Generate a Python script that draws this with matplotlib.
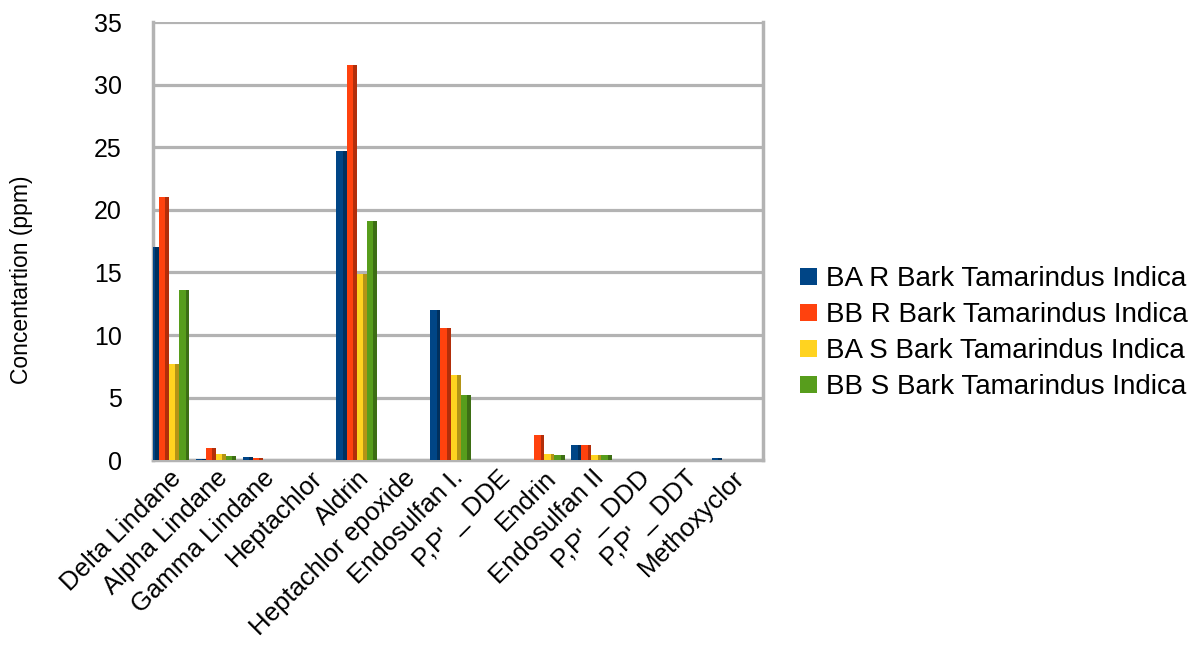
import matplotlib.pyplot as plt
import numpy as np

plt.rcParams['font.family'] = ['Liberation Sans', 'DejaVu Sans']

compounds = ['Delta Lindane', 'Alpha Lindane', 'Gamma Lindane', 'Heptachlor', 'Aldrin',
             'Heptachlor epoxide', 'Endosulfan I.', "P,P' _ DDE", 'Endrin', 'Endosulfan II',
             "P,P' _ DDD", "P,P' _ DDT", 'Methoxyclor']

ba_r = [17.0, 0.1, 0.25, 0.03, 24.7, 0.05, 12.0, 0.05, 0.05, 1.2, 0.05, 0.05, 0.2]
bb_r = [21.0, 1.0, 0.15, 0.03, 31.6, 0.05, 10.6, 0.05, 2.0, 1.2, 0.05, 0.05, 0.05]
ba_s = [7.7, 0.5, 0.05, 0.03, 14.9, 0.05, 6.8, 0.05, 0.5, 0.4, 0.05, 0.05, 0.05]
bb_s = [13.6, 0.35, 0.05, 0.03, 19.1, 0.05, 5.2, 0.05, 0.4, 0.4, 0.05, 0.05, 0.05]

series = [ba_r, bb_r, ba_s, bb_s]
names = ['BA R Bark Tamarindus Indica', 'BB R Bark Tamarindus Indica',
         'BA S Bark Tamarindus Indica', 'BB S Bark Tamarindus Indica']
colors = ['#004586', '#ff420e', '#ffd320', '#579d1c']
sides = ['#00305e', '#b22e0a', '#b39416', '#3d6e14']

fig = plt.figure(figsize=(12.01, 6.51), dpi=100)
ax = fig.add_axes([0.127, 0.293, 0.508, 0.673])

x = np.arange(len(compounds))
w = 0.215
for i, vals in enumerate(series):
    pos = x + (i - 1.5) * w
    ax.bar(pos, vals, w, color=colors[i], label=names[i], zorder=3)
    ax.bar(pos + w * 0.32, vals, w * 0.36, color=sides[i], zorder=3)

ax.set_xlim(-0.35, len(compounds) - 0.35)
ax.set_ylim(0, 35)
ax.set_yticks(range(0, 36, 5))
ax.yaxis.grid(True, color='#b3b3b3', linewidth=2.3, zorder=0)
ax.set_axisbelow(True)
for s in ax.spines.values():
    s.set_color('#b3b3b3')
    s.set_linewidth(2.5)
ax.spines['top'].set_visible(False)
ax.tick_params(axis='y', length=0, labelsize=18, pad=22)
ax.tick_params(axis='x', length=0, labelsize=18.5, pad=4)
ax.set_xticks(x)
ax.set_xticklabels(compounds, rotation=45, ha='right', rotation_mode='anchor')

fig.text(22 / 1201, 0.57, 'Concentartion (ppm)', rotation=90, ha='center', va='center',
         fontsize=16.5)

ax.legend(loc='center left', bbox_to_anchor=(800 / 1201, 0.488), bbox_transform=fig.transFigure,
          frameon=False, fontsize=20, borderpad=0, borderaxespad=0,
          handlelength=0.6, handleheight=0.6, handletextpad=0.35, labelspacing=0.36)

fig.savefig('out.png', dpi=100)
